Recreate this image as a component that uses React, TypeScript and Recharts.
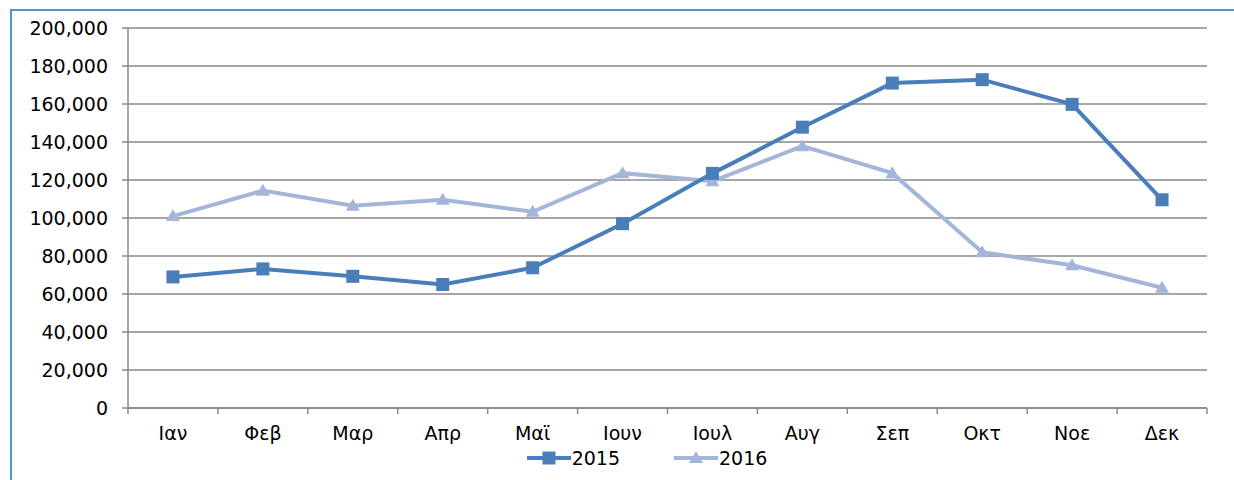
import { LineChart, Line, XAxis, YAxis, CartesianGrid, Legend } from "recharts";

const months = ["Ιαν", "Φεβ", "Μαρ", "Απρ", "Μαϊ", "Ιουν", "Ιουλ", "Αυγ", "Σεπ", "Οκτ", "Νοε", "Δεκ"];
const values2015 = [69000, 73200, 69300, 65000, 73800, 97000, 123500, 147800, 171000, 172800, 159800, 109600];
const values2016 = [101000, 114400, 106500, 109600, 103300, 123600, 119300, 137800, 123600, 82000, 75100, 63300];
const yTicks = [0, 20000, 40000, 60000, 80000, 100000, 120000, 140000, 160000, 180000, 200000];
const bandTicks = [0, 1, 2, 3, 4, 5, 6, 7, 8, 9, 10, 11, 12];

const data = months.map((m, i) => ({
  month: m,
  pos: i + 0.5,
  y2015: values2015[i],
  y2016: values2016[i],
}));

const BLUE = "#4a7ebb";
const LIGHT = "#a3b6da";
const GRID = "#8a8a8a";
const FONT = "'DejaVu Sans', Verdana, sans-serif";
const FONT_SIZE = 19;

const CHART_W = 1234;
const CHART_H = 480;
const MARGIN = { top: 28, right: 27, left: 0, bottom: 0 };
const Y_W = 128;
const HALF_BAND = (CHART_W - MARGIN.right - Y_W) / 12 / 2;

function SquareDot(props: any) {
  const { cx, cy } = props;
  if (cx == null || cy == null) return null;
  return <rect x={cx - 6.5} y={cy - 6.5} width={13} height={13} fill={BLUE} />;
}

function TriangleDot(props: any) {
  const { cx, cy } = props;
  if (cx == null || cy == null) return null;
  return <path d={`M${cx},${cy - 7} L${cx + 7},${cy + 5} L${cx - 7},${cy + 5} Z`} fill={LIGHT} />;
}

function MonthTick(props: any) {
  const { x, y, payload } = props;
  const label = months[payload.value];
  if (!label) return null;
  return (
    <text x={x + HALF_BAND} y={y + 24} textAnchor="middle" fill="#000" fontSize={FONT_SIZE} fontFamily={FONT}>
      {label}
    </text>
  );
}

function LegendContent() {
  const items = [
    { name: "2015", color: BLUE, marker: "square" },
    { name: "2016", color: LIGHT, marker: "triangle" },
  ];
  return (
    <div style={{ display: "flex", justifyContent: "center", gap: 54, paddingLeft: 60 }}>
      {items.map((it) => (
        <div key={it.name} style={{ display: "flex", alignItems: "center" }}>
          <svg width={44} height={16}>
            <line x1={0} y1={8} x2={44} y2={8} stroke={it.color} strokeWidth={4} />
            {it.marker === "square" ? (
              <rect x={15.5} y={1.5} width={13} height={13} fill={it.color} />
            ) : (
              <path d="M22,1 L29,13 L15,13 Z" fill={it.color} />
            )}
          </svg>
          <span style={{ fontFamily: FONT, fontSize: FONT_SIZE, color: "#000", marginLeft: 1 }}>{it.name}</span>
        </div>
      ))}
    </div>
  );
}

export default function App() {
  return (
    <div style={{ position: "fixed", left: 0, top: 0, width: CHART_W, height: CHART_H, background: "#fff" }}>
      <div
        style={{
          position: "absolute",
          left: 10,
          top: 9,
          right: 0,
          bottom: 0,
          borderLeft: "2px solid #4f94cd",
          borderTop: "2px solid #4f94cd",
        }}
      />
      <LineChart width={CHART_W} height={CHART_H} data={data} margin={MARGIN}>
        <CartesianGrid vertical={false} stroke={GRID} strokeWidth={1.5} />
        <XAxis
          dataKey="pos"
          type="number"
          domain={[0, 12]}
          ticks={bandTicks}
          interval={0}
          height={72}
          stroke={GRID}
          strokeWidth={1.5}
          tickSize={6}
          tick={<MonthTick />}
          allowDecimals
        />
        <YAxis
          domain={[0, 200000]}
          ticks={yTicks}
          interval={0}
          width={Y_W}
          stroke={GRID}
          strokeWidth={1.5}
          tickSize={6}
          tickMargin={14}
          tick={{ fill: "#000", fontSize: FONT_SIZE, fontFamily: FONT }}
          tickFormatter={(v: number) => v.toLocaleString("en-US")}
        />
        <Legend
          verticalAlign="middle"
          align="center"
          layout="horizontal"
          content={<LegendContent />}
          wrapperStyle={{ top: 447, left: 0, width: CHART_W }}
        />
        <Line
          type="linear"
          dataKey="y2016"
          name="2016"
          stroke={LIGHT}
          strokeWidth={4}
          dot={<TriangleDot />}
          activeDot={false}
          isAnimationActive={false}
        />
        <Line
          type="linear"
          dataKey="y2015"
          name="2015"
          stroke={BLUE}
          strokeWidth={4}
          dot={<SquareDot />}
          activeDot={false}
          isAnimationActive={false}
        />
      </LineChart>
    </div>
  );
}
